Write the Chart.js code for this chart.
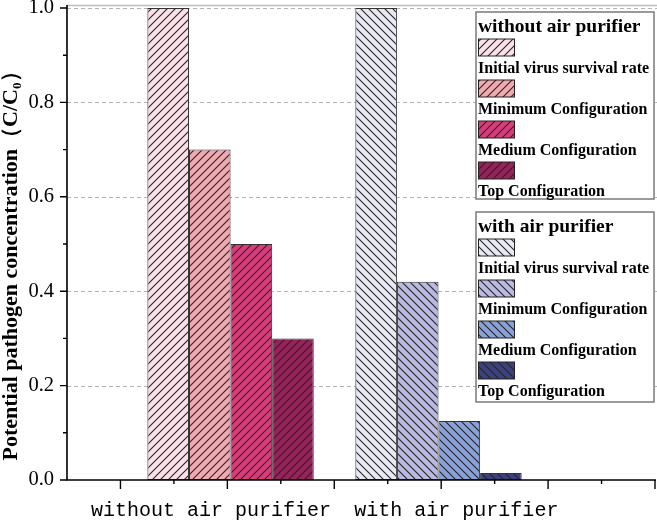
<!DOCTYPE html>
<html>
<head>
<meta charset="utf-8">
<script src="https://cdn.jsdelivr.net/npm/chart.js@4.4.1/dist/chart.umd.min.js"></script>
<style>
  html, body { margin: 0; padding: 0; background: #fff; }
  #wrap { width: 657px; height: 522px; }
</style>
</head>
<body>
<div id="wrap"><canvas id="chart" width="657" height="522"></canvas></div>
<script>
// data
const groups = ["without air purifier", "with air purifier"];
const groupX = [1.03, 2.975];      // bar group centres on the x axis
const labelX = [0.847, 3.142];     // where the group names sit
const configs = ["Initial virus survival rate", "Minimum Configuration", "Medium Configuration", "Top Configuration"];
const withoutPurifier = [1.0, 0.70, 0.50, 0.30];
const withPurifier = [1.0, 0.42, 0.125, 0.015];
const pinkColors = ["#fae0e8", "#f0a9b0", "#dc3b7b", "#99225a"];
const blueColors = ["#e9e9f3", "#b9b9e2", "#88a1d9", "#3b4081"];
const yTitle = "Potential pathogen concentration（C/C₀）";

function hatch(color, dir) {
  const s = 8;
  const c = document.createElement("canvas");
  c.width = s; c.height = s;
  const g = c.getContext("2d");
  g.fillStyle = color;
  g.fillRect(0, 0, s, s);
  g.strokeStyle = "#262626";
  g.lineWidth = 1.1;
  g.beginPath();
  if (dir > 0) {
    g.moveTo(0, s); g.lineTo(s, 0);
    g.moveTo(-2, 2); g.lineTo(2, -2);
    g.moveTo(s - 2, s + 2); g.lineTo(s + 2, s - 2);
  } else {
    g.moveTo(0, 0); g.lineTo(s, s);
    g.moveTo(-2, s - 2); g.lineTo(2, s + 2);
    g.moveTo(s - 2, -2); g.lineTo(s + 2, 2);
  }
  g.stroke();
  return g.createPattern(c, "repeat");
}

const pinkHatch = pinkColors.map(c => hatch(c, 1));
const blueHatch = blueColors.map(c => hatch(c, -1));

const datasets = configs.map((name, i) => ({
  label: name,
  data: [
    { x: groupX[0], y: withoutPurifier[i] },
    { x: groupX[1], y: withPurifier[i] }
  ],
  backgroundColor: [pinkHatch[i], blueHatch[i]],
  borderColor: "#333",
  borderWidth: 1,
  borderSkipped: false
}));

// gridlines, frame and tick marks
const framePlugin = {
  id: "frame",
  beforeDatasetsDraw(chart) {
    const ctx = chart.ctx, a = chart.chartArea;
    const y = chart.scales.y;
    ctx.save();
    ctx.strokeStyle = "#b4b4b4";
    ctx.lineWidth = 1;
    ctx.setLineDash([4, 3]);
    for (let v = 0.2; v <= 1.0001; v += 0.2) {
      const py = Math.round(y.getPixelForValue(v)) + 0.5;
      ctx.beginPath();
      ctx.moveTo(a.left, py);
      ctx.lineTo(657, py);
      ctx.stroke();
    }
    ctx.setLineDash([]);
    ctx.strokeStyle = "#bdbdbd";
    ctx.lineWidth = 1.5;
    ctx.beginPath();
    ctx.moveTo(a.left, a.top - 2.5);
    ctx.lineTo(657, a.top - 2.5);
    ctx.stroke();
    ctx.restore();
  },
  afterDatasetsDraw(chart) {
    const ctx = chart.ctx, a = chart.chartArea;
    const x = chart.scales.x, y = chart.scales.y;
    ctx.save();
    ctx.strokeStyle = "#000";
    ctx.lineWidth = 1.6;
    ctx.beginPath();
    ctx.moveTo(a.left, a.top - 3);
    ctx.lineTo(a.left, a.bottom);
    ctx.lineTo(656, a.bottom);
    ctx.stroke();
    ctx.lineWidth = 1.4;
    ctx.beginPath();
    for (let k = 0; k <= 10; k++) {
      const v = k / 10;
      const py = y.getPixelForValue(v);
      const len = k % 2 === 0 ? 7 : 4;
      ctx.moveTo(a.left, py);
      ctx.lineTo(a.left - len, py);
    }
    for (let k = 1; k <= 11; k++) {
      const v = -0.5 + k * 0.5;
      const px = x.getPixelForValue(v);
      const len = k % 2 === 1 ? 9 : 4;
      ctx.moveTo(px, a.bottom);
      ctx.lineTo(px, a.bottom + len);
    }
    ctx.stroke();
    ctx.restore();
  }
};

// two boxed legends, one per group
const legendBoxes = [
  { title: groups[0], fills: pinkHatch, x: 476, y: 12, w: 178, h: 187 },
  { title: groups[1], fills: blueHatch, x: 476, y: 212, w: 178, h: 190 }
];

const legendPlugin = {
  id: "boxLegend",
  afterDraw(chart) {
    const ctx = chart.ctx;
    ctx.save();
    legendBoxes.forEach(b => {
      ctx.fillStyle = "#fff";
      ctx.fillRect(b.x, b.y, b.w, b.h);
      ctx.strokeStyle = "#7a7a7a";
      ctx.lineWidth = 1.5;
      ctx.strokeRect(b.x, b.y, b.w, b.h);
      ctx.fillStyle = "#000";
      ctx.textBaseline = "middle";
      ctx.textAlign = "left";
      ctx.font = "bold 19.5px 'Liberation Serif'";
      ctx.fillText(b.title, b.x + 2, b.y + 15);
      configs.forEach((name, i) => {
        const sy = b.y + 27 + 41 * i;
        ctx.fillStyle = b.fills[i];
        ctx.fillRect(b.x + 2.5, sy, 36, 17);
        ctx.strokeStyle = "#222";
        ctx.lineWidth = 1;
        ctx.strokeRect(b.x + 2.5, sy, 36, 17);
        ctx.fillStyle = "#000";
        ctx.font = "bold 16px 'Liberation Serif'";
        ctx.fillText(name, b.x + 2, b.y + 57 + 41 * i);
      });
    });
    ctx.restore();
  }
};

new Chart(document.getElementById("chart").getContext("2d"), {
  type: "bar",
  data: { datasets: datasets },
  options: {
    responsive: false,
    animation: false,
    layout: { padding: { top: 8, right: 2, left: 0, bottom: 0 } },
    datasets: { bar: { categoryPercentage: 0.8, barPercentage: 1.0, grouped: true } },
    plugins: { legend: { display: false }, tooltip: { enabled: false } },
    scales: {
      x: {
        type: "linear",
        min: -0.5,
        max: 5,
        offset: false,
        grid: { display: false, drawTicks: false, offset: false },
        border: { display: false },
        afterBuildTicks: axis => { axis.ticks = labelX.map(v => ({ value: v })); },
        ticks: {
          autoSkip: false,
          maxRotation: 0,
          padding: 19,
          color: "#000",
          font: { family: "'Liberation Mono'", size: 20 },
          callback: (v, i) => groups[i]
        },
        afterFit: axis => { axis.height = 42; axis.paddingLeft = 0; axis.paddingRight = 0; }
      },
      y: {
        min: 0,
        max: 1,
        grid: { display: false, drawTicks: false },
        border: { display: false },
        ticks: {
          stepSize: 0.2,
          padding: 13,
          color: "#000",
          font: { family: "'Liberation Serif'", size: 20.5 },
          callback: v => v.toFixed(1)
        },
        title: {
          display: true,
          // trailing blanks nudge the centred title toward the bottom, as in the original
          text: yTitle + "\u3000\u2002",
          color: "#000",
          padding: { top: 0, bottom: 0 },
          font: { family: "'Liberation Serif'", size: 22, weight: "bold", lineHeight: 1 }
        },
        afterFit: axis => { axis.width = 67; axis.paddingTop = 0; axis.paddingBottom = 0; }
      }
    }
  },
  plugins: [framePlugin, legendPlugin]
});
</script>
</body>
</html>
